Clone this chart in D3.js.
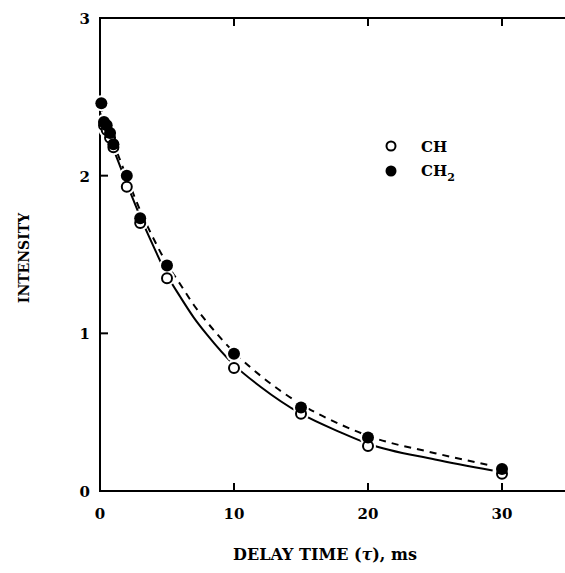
<!DOCTYPE html>
<html>
<head>
<meta charset="utf-8">
<script src="https://cdn.jsdelivr.net/npm/d3@7"></script>
<style>
  body { margin: 0; background: #fff; }
  svg { display: block; }
  .lbl { font-family: "DejaVu Serif", "Liberation Serif", serif; fill: #000; }
</style>
</head>
<body>
<svg id="chart"></svg>
<script>
// measured points (delay time in ms, intensity)
const chTimes = [0.3, 0.5, 0.75, 1, 2, 3, 5, 10, 15, 20, 30];
const chValues = [2.32, 2.29, 2.24, 2.18, 1.93, 1.70, 1.35, 0.78, 0.49, 0.285, 0.11];
const ch2Times = [0.1, 0.3, 0.5, 0.75, 1, 2, 3, 5, 10, 15, 20, 30];
const ch2Values = [2.46, 2.34, 2.32, 2.27, 2.20, 2.00, 1.73, 1.43, 0.87, 0.53, 0.34, 0.14];

// fitted curves
const fitTimes = [0, 1, 2, 3, 4, 5, 6, 7, 8, 10, 12, 15, 18, 20, 25, 29.3];
const chFit = [2.40, 2.17, 1.95, 1.74, 1.55, 1.37, 1.23, 1.10, 0.99, 0.80, 0.66, 0.49, 0.37, 0.30, 0.20, 0.13];
const ch2Fit = [2.45, 2.21, 1.99, 1.78, 1.60, 1.44, 1.31, 1.18, 1.07, 0.88, 0.73, 0.55, 0.42, 0.35, 0.24, 0.16];

const xTicks = [0, 10, 20, 30];
const yTicks = [0, 1, 2, 3];

function makeChart() {
    let w = 565;
    let h = 573;

    let svg = d3.select('#chart')
        .attr('width', w)
        .attr('height', h);

    let xScale = d3.scaleLinear()
        .domain([0, 35])
        .range([100, 569]);
    let yScale = d3.scaleLinear()
        .domain([0, 3])
        .range([491, 18]);

    // frame
    svg.append('path')
        .attr('d', `M${xScale(35)},${yScale(3)} H${xScale(0)} V${yScale(0)} H${xScale(35)}`)
        .attr('fill', 'none')
        .attr('stroke', '#000')
        .attr('stroke-width', 2);

    // inward ticks
    let tickLen = 8;
    let inner = xTicks.slice(1);
    svg.selectAll('.xt')
        .data(inner)
        .enter()
        .append('line')
        .attr('x1', d => xScale(d)).attr('x2', d => xScale(d))
        .attr('y1', yScale(0)).attr('y2', yScale(0) - tickLen)
        .attr('stroke', '#000').attr('stroke-width', 2);
    svg.selectAll('.xtt')
        .data(inner)
        .enter()
        .append('line')
        .attr('x1', d => xScale(d)).attr('x2', d => xScale(d))
        .attr('y1', yScale(3)).attr('y2', yScale(3) + tickLen)
        .attr('stroke', '#000').attr('stroke-width', 2);
    svg.selectAll('.yt')
        .data(yTicks.slice(1, 3))
        .enter()
        .append('line')
        .attr('x1', xScale(0)).attr('x2', xScale(0) + tickLen)
        .attr('y1', d => yScale(d)).attr('y2', d => yScale(d))
        .attr('stroke', '#000').attr('stroke-width', 2);

    // tick labels
    svg.selectAll('.xl')
        .data(xTicks)
        .enter()
        .append('text')
        .attr('class', 'lbl')
        .attr('x', d => xScale(d))
        .attr('y', yScale(0) + 28)
        .attr('text-anchor', 'middle')
        .attr('font-size', 15)
        .attr('font-weight', 'bold')
        .text(d => d);
    svg.selectAll('.yl')
        .data(yTicks)
        .enter()
        .append('text')
        .attr('class', 'lbl')
        .attr('x', xScale(0) - 10)
        .attr('y', d => yScale(d) + 6)
        .attr('text-anchor', 'end')
        .attr('font-size', 15)
        .attr('font-weight', 'bold')
        .text(d => d);

    // axis titles
    svg.append('text')
        .attr('class', 'lbl')
        .attr('x', 325)
        .attr('y', 560)
        .attr('text-anchor', 'middle')
        .attr('font-size', 16)
        .attr('font-weight', 'bold')
        .html('DELAY TIME (<tspan font-style="italic">τ</tspan>), ms');
    svg.append('text')
        .attr('class', 'lbl')
        .attr('transform', 'translate(29,258) rotate(-90)')
        .attr('text-anchor', 'middle')
        .attr('font-size', 14)
        .attr('font-weight', 'bold')
        .text('INTENSITY');

    // fitted curves
    let line = d3.line()
        .curve(d3.curveMonotoneX)
        .x((d, i) => xScale(fitTimes[i]))
        .y(d => yScale(d));
    svg.append('path')
        .attr('d', line(ch2Fit))
        .attr('fill', 'none')
        .attr('stroke', '#000')
        .attr('stroke-width', 2)
        .attr('stroke-dasharray', '7,6');
    svg.append('path')
        .attr('d', line(chFit))
        .attr('fill', 'none')
        .attr('stroke', '#000')
        .attr('stroke-width', 2);

    // markers with white halo
    let ch = chTimes.map((t, i) => [t, chValues[i]]);
    let ch2 = ch2Times.map((t, i) => [t, ch2Values[i]]);
    svg.selectAll('.halo')
        .data(ch.concat(ch2))
        .enter()
        .append('circle')
        .attr('cx', d => xScale(d[0]))
        .attr('cy', d => yScale(d[1]))
        .attr('r', 8)
        .attr('fill', '#fff');
    svg.selectAll('.open')
        .data(ch)
        .enter()
        .append('circle')
        .attr('cx', d => xScale(d[0]))
        .attr('cy', d => yScale(d[1]))
        .attr('r', 5)
        .attr('fill', '#fff')
        .attr('stroke', '#000')
        .attr('stroke-width', 2);
    svg.selectAll('.filled')
        .data(ch2)
        .enter()
        .append('circle')
        .attr('cx', d => xScale(d[0]))
        .attr('cy', d => yScale(d[1]))
        .attr('r', 6)
        .attr('fill', '#000');

    // legend
    svg.append('circle')
        .attr('cx', 391).attr('cy', 146).attr('r', 4.5)
        .attr('fill', '#fff').attr('stroke', '#000').attr('stroke-width', 2);
    svg.append('circle')
        .attr('cx', 391).attr('cy', 171).attr('r', 5.5)
        .attr('fill', '#000');
    svg.append('text')
        .attr('class', 'lbl')
        .attr('x', 421).attr('y', 152)
        .attr('font-size', 15)
        .attr('font-weight', 'bold')
        .text('CH');
    svg.append('text')
        .attr('class', 'lbl')
        .attr('x', 421).attr('y', 176)
        .attr('font-size', 15)
        .attr('font-weight', 'bold')
        .html('CH<tspan font-size="11" dy="5">2</tspan>');
}

window.onload = function() {
    makeChart();
}
</script>
</body>
</html>
